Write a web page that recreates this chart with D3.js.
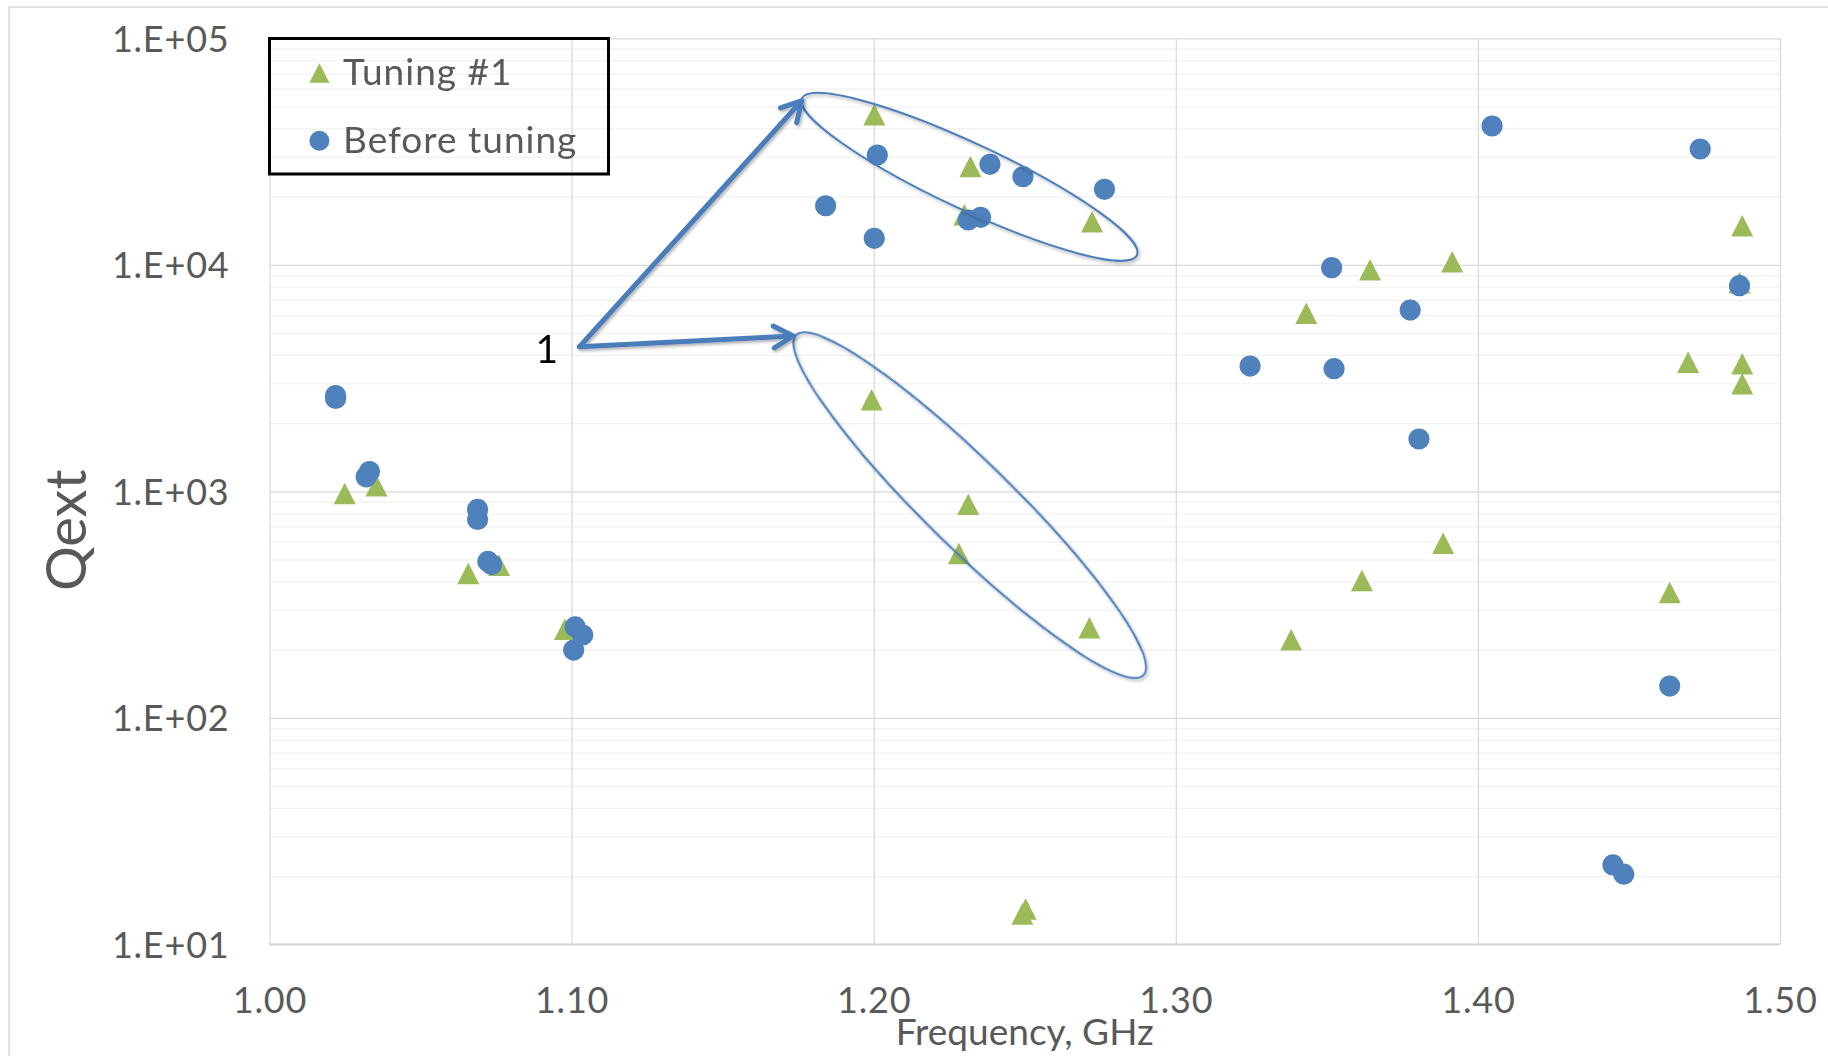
<!DOCTYPE html>
<html>
<head>
<meta charset="utf-8">
<script src="https://cdn.jsdelivr.net/npm/d3@7"></script>
<style>
  html, body { margin: 0; padding: 0; background: #ffffff; }
  svg { display: block; font-family: Lato, "Open Sans", "Noto Sans", sans-serif; }
</style>
</head>
<body>
<svg id="chart" width="1828" height="1056"></svg>
<script>
// ---- data -------------------------------------------------------------
const seriesNames = ["Tuning #1", "Before tuning"];

// Tuning #1 (triangles)
const tuningFreq = [1.0249, 1.0354, 1.0658, 1.0760, 1.0978, 1.2002, 1.2320, 1.2300, 1.2723,
                    1.1993, 1.2313, 1.2282, 1.2714, 1.2492, 1.2503, 1.3382, 1.3432, 1.3643,
                    1.3915, 1.3616, 1.3885, 1.4875, 1.4866, 1.4696, 1.4875, 1.4875, 1.4635];
const tuningQext = [978, 1058, 434, 471, 246, 45980, 27160, 16630, 15490,
                    2535, 877, 531, 250, 13.6, 14.3, 221, 6113, 9505,
                    10310, 404, 590, 14870, 8335, 3715, 3655, 2983, 357];

// Before tuning (circles)
const beforeFreq = [1.0219, 1.0219, 1.0331, 1.0320, 1.0689, 1.0689, 1.0723, 1.0735, 1.1012, 1.1037,
                    1.1007, 1.2012, 1.2385, 1.2494, 1.2764, 1.1841, 1.2002, 1.2313, 1.2354, 1.3246,
                    1.3516, 1.3776, 1.4047, 1.4736, 1.4866, 1.3524, 1.3805, 1.4635, 1.4447, 1.4483];
const beforeQext = [2648, 2569, 1223, 1159, 832, 751, 490, 475, 252, 232,
                    199, 30530, 27780, 24490, 21540, 18230, 13090, 15770, 16210, 3573,
                    9710, 6310, 41000, 32460, 8090, 3477, 1702, 138, 22.4, 20.4];

// axes
const xTickValues = [1.00, 1.10, 1.20, 1.30, 1.40, 1.50];
const xTickLabels = ["1.00", "1.10", "1.20", "1.30", "1.40", "1.50"];
const yTickValues = [1e1, 1e2, 1e3, 1e4, 1e5];
const yTickLabels = ["1.E+01", "1.E+02", "1.E+03", "1.E+04", "1.E+05"];
const xTitle = "Frequency, GHz";
const yTitle = "Qext";

// callout "1": two arrows pointing at two circled groups (frequency, Qext)
const calloutText = "1";
const calloutTextAt = [1.0918, 3685];
const arrowFrom = [1.1026, 4348];
const arrowTo = [[1.1762, 53030], [1.1734, 4849]];
const ringCenters = [[1.2317, 24460], [1.2318, 868]];

// ---- layout -----------------------------------------------------------
const plot = { left: 269.5, right: 1780, top: 38.3, bottom: 944.3 };
const C = {
  tri: "#9bbb59", dot: "#4f81bd", shape: "#4a7ebb",
  major: "#d9d9d9", minor: "#f0f0f0", text: "#595959"
};

const svg = d3.select("#chart");

const x = d3.scaleLinear().domain([1.0, 1.5]).range([plot.left, plot.right]);
const y = d3.scaleLog().domain([10, 1e5]).range([plot.bottom, plot.top]);

// soft shadow used by the drawn shapes
const defs = svg.append("defs");
const sh = defs.append("filter").attr("id", "shade")
  .attr("x", "-20%").attr("y", "-20%").attr("width", "140%").attr("height", "140%");
sh.append("feDropShadow").attr("dx", 1.5).attr("dy", 2).attr("stdDeviation", 1.6)
  .attr("flood-color", "#000").attr("flood-opacity", 0.3);

// outer chart frame
svg.append("rect").attr("x", 9).attr("y", 7).attr("width", 1900).attr("height", 1200)
  .attr("fill", "none").attr("stroke", "#d9d9d9").attr("stroke-width", 1.5);

// minor horizontal gridlines (2..9 in each decade)
const minorVals = [];
for (let e = 1; e < 5; e++) for (let m = 2; m <= 9; m++) minorVals.push(m * Math.pow(10, e));
const gMinor = svg.append("g").attr("transform", `translate(${plot.left},0)`)
  .call(d3.axisLeft(y).tickValues(minorVals).tickSize(-(plot.right - plot.left)).tickFormat(""));
gMinor.select(".domain").remove();
gMinor.selectAll("line").attr("stroke", C.minor).attr("stroke-width", 1.2);

// major horizontal gridlines
const gMajor = svg.append("g").attr("transform", `translate(${plot.left},0)`)
  .call(d3.axisLeft(y).tickValues(yTickValues).tickSize(-(plot.right - plot.left)).tickFormat(""));
gMajor.select(".domain").remove();
gMajor.selectAll("line").attr("stroke", C.major).attr("stroke-width", 1.3);

// vertical gridlines
const gVert = svg.append("g").attr("transform", `translate(0,${plot.bottom})`)
  .call(d3.axisBottom(x).tickValues(xTickValues).tickSize(-(plot.bottom - plot.top)).tickFormat(""));
gVert.select(".domain").remove();
gVert.selectAll("line").attr("stroke", C.major).attr("stroke-width", 1.2);

// bottom axis line
svg.append("line").attr("x1", plot.left).attr("x2", plot.right)
  .attr("y1", plot.bottom).attr("y2", plot.bottom)
  .attr("stroke", "#d0d0d0").attr("stroke-width", 1.6);

// y tick labels
const yAxis = svg.append("g").attr("transform", `translate(${plot.left},0)`)
  .call(d3.axisLeft(y).tickValues(yTickValues).tickSize(0).tickPadding(40)
    .tickFormat(d => yTickLabels[yTickValues.indexOf(d)]));
yAxis.select(".domain").remove();
yAxis.selectAll("text").attr("dy", "0.36em").attr("fill", C.text)
  .style("font-size", "36px").style("letter-spacing", "0.8px")
  .style("font-family", "Lato, sans-serif");

// x tick labels
const xAxis = svg.append("g").attr("transform", `translate(0,${plot.bottom})`)
  .call(d3.axisBottom(x).tickValues(xTickValues).tickSize(0)
    .tickFormat(d => xTickLabels[xTickValues.indexOf(d)]));
xAxis.select(".domain").remove();
xAxis.selectAll("text").attr("y", 68.7).attr("dy", null).attr("fill", C.text)
  .style("font-size", "36px").style("letter-spacing", "0.8px")
  .style("font-family", "Lato, sans-serif");

// axis titles
svg.append("text").attr("x", (plot.left + plot.right) / 2).attr("y", 1045)
  .attr("text-anchor", "middle").attr("fill", C.text)
  .style("font-size", "37px").text(xTitle);
svg.append("text").attr("transform", `translate(86,${(plot.top + plot.bottom) / 2 + 39}) rotate(-90)`)
  .attr("text-anchor", "middle").attr("fill", C.text)
  .style("font-size", "56px").text(yTitle);

// ---- marks -------------------------------------------------------------
const triPath = (w, h) => `M0,${-h / 2}L${w / 2},${h / 2}L${-w / 2},${h / 2}Z`;

const tuning = tuningFreq.map((f, i) => ({ f, q: tuningQext[i] }));
const before = beforeFreq.map((f, i) => ({ f, q: beforeQext[i] }));

svg.append("g").selectAll("path").data(tuning).join("path")
  .attr("d", triPath(22, 21.5))
  .attr("transform", d => `translate(${x(d.f)},${y(d.q)})`)
  .attr("fill", C.tri);

svg.append("g").selectAll("circle").data(before).join("circle")
  .attr("cx", d => x(d.f)).attr("cy", d => y(d.q)).attr("r", 10.6)
  .attr("fill", C.dot);

// ---- callout shapes ----------------------------------------------------
const rings = [
  { c: ringCenters[0], rx: 185, ry: 33, angle: 25.1 },
  { c: ringCenters[1], rx: 243, ry: 43.6, angle: 44.4 }
];
svg.append("g").attr("filter", "url(#shade)").selectAll("ellipse").data(rings).join("ellipse")
  .attr("transform", d => `translate(${x(d.c[0])},${y(d.c[1])}) rotate(${d.angle})`)
  .attr("rx", d => d.rx).attr("ry", d => d.ry)
  .attr("fill", "none").attr("stroke", C.shape).attr("stroke-width", 2);

const arrows = svg.append("g").attr("filter", "url(#shade)");
arrowTo.forEach(t => {
  const x0 = x(arrowFrom[0]), y0 = y(arrowFrom[1]);
  const x1 = x(t[0]), y1 = y(t[1]);
  const ang = Math.atan2(y1 - y0, x1 - x0);
  const L = 22.5, spread = 29 * Math.PI / 180;
  const a1 = [x1 - L * Math.cos(ang - spread), y1 - L * Math.sin(ang - spread)];
  const a2 = [x1 - L * Math.cos(ang + spread), y1 - L * Math.sin(ang + spread)];
  arrows.append("path")
    .attr("d", `M${x0},${y0}L${x1},${y1}M${a1[0]},${a1[1]}L${x1},${y1}L${a2[0]},${a2[1]}`)
    .attr("fill", "none").attr("stroke", C.shape).attr("stroke-width", 5)
    .attr("stroke-linecap", "round").attr("stroke-linejoin", "round");
});

svg.append("text").attr("x", x(calloutTextAt[0])).attr("y", y(calloutTextAt[1]))
  .attr("text-anchor", "middle").attr("fill", "#000")
  .style("font-size", "39px").text(calloutText);

// ---- legend --------------------------------------------------------------
const leg = svg.append("g");
leg.append("rect").attr("x", 269.5).attr("y", 38.5).attr("width", 339).attr("height", 135.5)
  .attr("fill", "none").attr("stroke", "#000").attr("stroke-width", 3);
leg.append("path").attr("d", triPath(20, 19.5))
  .attr("transform", "translate(319.4,73)").attr("fill", C.tri);
leg.append("circle").attr("cx", 319.4).attr("cy", 140.7).attr("r", 10).attr("fill", C.dot);
leg.selectAll("text.lab").data(seriesNames).join("text").attr("class", "lab")
  .attr("x", 343).attr("y", (d, i) => i === 0 ? 85 : 152.7)
  .attr("fill", C.text).style("font-size", "37px").style("letter-spacing", "1px")
  .text(d => d);
</script>
</body>
</html>
